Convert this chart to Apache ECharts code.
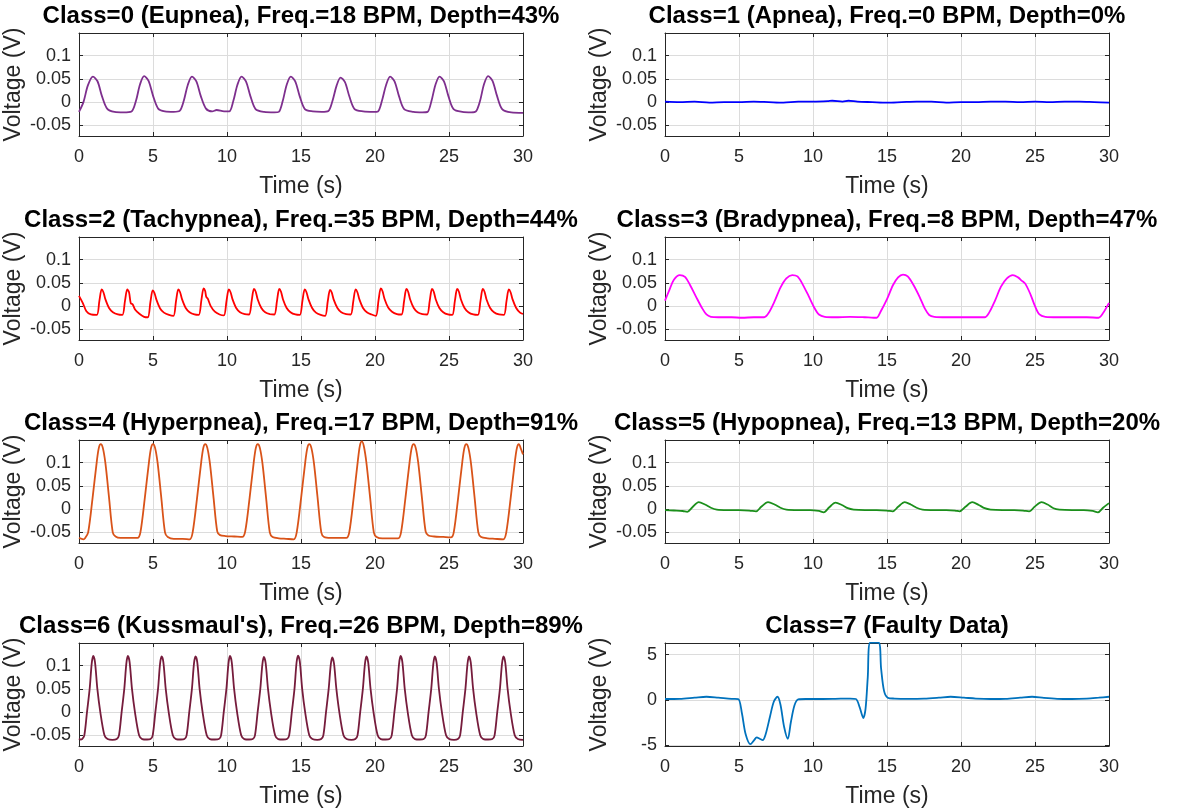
<!DOCTYPE html>
<html>
<head>
<meta charset="utf-8">
<script src="https://cdn.jsdelivr.net/npm/echarts/dist/echarts.min.js"></script>
<style>
html, body { margin: 0; padding: 0; background: #fff; }
#main { width: 1179px; height: 812px; }
</style>
</head>
<body>
<div id="main"></div>
<script>
// panel titles and line colours, class 0..7
var titles = [
    'Class=0 (Eupnea), Freq.=18 BPM, Depth=43%',
    'Class=1 (Apnea), Freq.=0 BPM, Depth=0%',
    'Class=2 (Tachypnea), Freq.=35 BPM, Depth=44%',
    'Class=3 (Bradypnea), Freq.=8 BPM, Depth=47%',
    'Class=4 (Hyperpnea), Freq.=17 BPM, Depth=91%',
    'Class=5 (Hypopnea), Freq.=13 BPM, Depth=20%',
    "Class=6 (Kussmaul's), Freq.=26 BPM, Depth=89%",
    'Class=7 (Faulty Data)'
];
var colors = ['#7e2f8e', '#0000ff', '#ff0000', '#ff00ff', '#d95319', '#1b8f1b', '#761c3c', '#0072bd'];

var yTicksSmall = [-0.05, 0, 0.05, 0.1];
var yTicksFault = [-5, 0, 5];

// [time (s), voltage (V)]
var eupnea = [
    [0,-0.021],[0.3,0.0],[0.6,0.036],[0.94,0.055],[1.25,0.045],[1.55,0.013],[1.9,-0.014],[2.4,-0.021],[3.0,-0.022],[3.55,-0.02],
    [3.85,0.003],[4.12,0.038],[4.4,0.056],[4.7,0.046],[5.0,0.014],[5.35,-0.014],[5.8,-0.02],[6.4,-0.021],[6.8,-0.019],
    [7.08,0.003],[7.35,0.037],[7.63,0.055],[7.93,0.045],[8.23,0.013],[8.58,-0.014],[9.0,-0.02],[9.3,-0.017],[9.8,-0.02],[10.15,-0.02],
    [10.43,0.003],[10.7,0.037],[10.98,0.055],[11.28,0.045],[11.58,0.013],[11.93,-0.015],[12.5,-0.021],[13.2,-0.022],[13.5,-0.021],
    [13.77,0.003],[14.03,0.037],[14.31,0.055],[14.61,0.045],[14.91,0.013],[15.26,-0.015],[15.8,-0.02],[16.4,-0.021],[16.85,-0.019],
    [17.12,0.002],[17.4,0.035],[17.67,0.053],[17.97,0.043],[18.27,0.012],[18.62,-0.015],[19.2,-0.02],[19.9,-0.021],[20.2,-0.02],
    [20.47,0.003],[20.75,0.037],[21.02,0.055],[21.32,0.045],[21.62,0.013],[21.97,-0.015],[22.6,-0.021],[23.2,-0.022],[23.55,-0.021],
    [23.82,0.003],[24.08,0.037],[24.36,0.055],[24.66,0.045],[24.96,0.013],[25.31,-0.015],[25.9,-0.021],[26.5,-0.022],[26.82,-0.02],
    [27.1,0.003],[27.36,0.038],[27.64,0.056],[27.94,0.046],[28.24,0.014],[28.59,-0.015],[29.2,-0.022],[30,-0.023]
];
var apnea = [
    [0,0.001],[1,0.0],[2,0.001],[3,-0.001],[4,0.0],[5,0.0],[6,0.001],[7,0.0],[8,-0.001],[9,0.001],[10,0.001],
    [11,0.002],[11.3,0.003],[12,0.001],[12.4,0.003],[13,0.001],[14,0.0],[15,-0.001],[16,0.0],[17,0.001],[18,0.001],
    [19,-0.001],[20,0.0],[21,0.0],[22,0.001],[23,0.001],[24,0.0],[25,0.001],[26,0.0],[27,0.001],[28,0.001],[29,0.0],[30,-0.001]
];
var tachypnea = [
    [0,0.022],[0.25,0.007],[0.5,-0.011],[0.8,-0.018],[1.2,-0.019],
    [1.38,0.012],[1.53,0.036],[1.65,0.03],[1.78,0.015],[2.03,-0.004],[2.29,-0.013],[2.63,-0.018],[2.93,-0.019],
    [3.11,0.012],[3.26,0.036],[3.38,0.03],[3.5,0.006],[3.62,0.004],[3.8,-0.008],[4.1,-0.017],[4.4,-0.023],[4.65,-0.024],
    [4.83,0.01],[4.98,0.034],[5.1,0.028],[5.23,0.014],[5.48,-0.005],[5.74,-0.014],[6.08,-0.019],[6.38,-0.021],
    [6.56,0.012],[6.71,0.036],[6.83,0.03],[6.96,0.015],[7.21,-0.004],[7.47,-0.013],[7.8,-0.018],[8.09,-0.019],
    [8.27,0.013],[8.42,0.038],[8.52,0.033],[8.6,0.02],[8.7,0.016],[8.9,0.0],[9.18,-0.012],[9.5,-0.018],[9.79,-0.02],
    [9.97,0.012],[10.12,0.036],[10.24,0.03],[10.37,0.015],[10.62,-0.004],[10.88,-0.013],[11.2,-0.017],[11.49,-0.018],
    [11.67,0.012],[11.82,0.037],[11.94,0.031],[12.07,0.015],[12.32,-0.004],[12.58,-0.013],[12.9,-0.017],[13.2,-0.018],
    [13.38,0.012],[13.53,0.037],[13.65,0.031],[13.78,0.015],[14.03,-0.004],[14.29,-0.013],[14.62,-0.018],[14.92,-0.019],
    [15.1,0.012],[15.25,0.036],[15.37,0.03],[15.5,0.015],[15.75,-0.004],[16.01,-0.014],[16.33,-0.019],[16.63,-0.021],
    [16.81,0.011],[16.96,0.035],[17.08,0.029],[17.21,0.014],[17.46,-0.004],[17.72,-0.013],[18.05,-0.017],[18.36,-0.018],
    [18.54,0.012],[18.69,0.036],[18.81,0.03],[18.94,0.015],[19.19,-0.004],[19.45,-0.013],[19.77,-0.018],[20.06,-0.021],
    [20.24,0.013],[20.39,0.038],[20.51,0.032],[20.64,0.016],[20.89,-0.003],[21.15,-0.012],[21.48,-0.017],[21.79,-0.018],
    [21.97,0.012],[22.12,0.037],[22.24,0.031],[22.37,0.015],[22.62,-0.004],[22.88,-0.013],[23.2,-0.017],[23.52,-0.018],
    [23.7,0.012],[23.85,0.037],[23.97,0.031],[24.1,0.015],[24.35,-0.004],[24.61,-0.013],[24.93,-0.018],[25.22,-0.019],
    [25.4,0.012],[25.55,0.037],[25.67,0.031],[25.8,0.015],[26.05,-0.004],[26.31,-0.013],[26.64,-0.018],[26.95,-0.019],
    [27.13,0.012],[27.28,0.037],[27.4,0.031],[27.53,0.015],[27.78,-0.004],[28.04,-0.013],[28.38,-0.018],[28.71,-0.019],
    [28.89,0.012],[29.04,0.036],[29.16,0.03],[29.29,0.015],[29.54,-0.004],[29.8,-0.014],[30,-0.017]
];
var bradypnea = [
    [0,0.012],[0.3,0.035],[0.6,0.057],[1.0,0.067],[1.35,0.063],[1.7,0.045],[2.1,0.02],[2.5,-0.004],[2.8,-0.018],[3.1,-0.023],
    [3.6,-0.024],[4.5,-0.024],[5.2,-0.025],[6.0,-0.024],[6.7,-0.024],
    [7.0,-0.015],[7.4,0.01],[7.8,0.04],[8.2,0.06],[8.6,0.067],[8.95,0.064],[9.3,0.047],[9.7,0.022],[10.1,-0.004],[10.4,-0.018],
    [10.8,-0.023],[11.5,-0.024],[12.5,-0.023],[13.5,-0.024],[14.1,-0.025],[14.3,-0.025],
    [14.6,-0.01],[15.0,0.015],[15.4,0.045],[15.75,0.062],[16.08,0.068],[16.4,0.064],[16.8,0.045],[17.2,0.02],[17.55,-0.005],[17.85,-0.019],
    [18.2,-0.023],[19,-0.024],[20,-0.024],[21,-0.024],[21.6,-0.024],
    [21.9,-0.014],[22.3,0.012],[22.7,0.042],[23.1,0.06],[23.5,0.067],[23.85,0.062],[24.1,0.055],[24.35,0.048],[24.7,0.025],[25.0,0.0],[25.3,-0.018],
    [25.7,-0.023],[26.5,-0.024],[27.5,-0.024],[28.5,-0.024],[29.3,-0.025],[29.6,-0.015],[30,0.007]
];
var hyperpnea = [
    [0,-0.062],[0.3,-0.065],[0.42,-0.062],
    [0.62,-0.05],[0.92,0.025],[1.2,0.102],[1.34,0.132],[1.47,0.14],[1.61,0.132],[1.78,0.1],[2.03,0.025],[2.28,-0.05],[2.47,-0.059],[2.8,-0.062],[3.5,-0.062],[3.95,-0.062],
    [4.15,-0.05],[4.45,0.025],[4.73,0.102],[4.87,0.132],[5.0,0.14],[5.14,0.132],[5.31,0.1],[5.56,0.025],[5.81,-0.05],[6.0,-0.06],[6.4,-0.064],[7.0,-0.064],[7.48,-0.065],
    [7.68,-0.05],[7.98,0.025],[8.26,0.102],[8.4,0.132],[8.53,0.14],[8.67,0.132],[8.84,0.1],[9.09,0.025],[9.34,-0.048],[9.53,-0.056],[9.9,-0.058],[10.5,-0.059],[11.03,-0.06],
    [11.23,-0.048],[11.53,0.025],[11.81,0.102],[11.95,0.132],[12.08,0.14],[12.22,0.132],[12.39,0.1],[12.64,0.025],[12.89,-0.05],[13.08,-0.06],[13.5,-0.063],[14.0,-0.064],[14.51,-0.065],
    [14.71,-0.05],[15.01,0.025],[15.29,0.102],[15.43,0.132],[15.56,0.14],[15.7,0.132],[15.87,0.1],[16.12,0.025],[16.37,-0.05],[16.56,-0.06],[17,-0.062],[17.5,-0.062],[18.06,-0.062],
    [18.26,-0.05],[18.56,0.025],[18.84,0.104],[18.98,0.137],[19.11,0.146],[19.25,0.135],[19.42,0.1],[19.67,0.025],[19.92,-0.05],[20.11,-0.06],[20.5,-0.063],[21,-0.063],[21.56,-0.063],
    [21.76,-0.05],[22.06,0.025],[22.34,0.102],[22.48,0.132],[22.61,0.14],[22.75,0.132],[22.92,0.1],[23.17,0.025],[23.42,-0.048],[23.61,-0.057],[24,-0.059],[24.6,-0.06],[25.12,-0.061],
    [25.32,-0.05],[25.62,0.025],[25.9,0.102],[26.04,0.132],[26.17,0.14],[26.31,0.132],[26.48,0.1],[26.73,0.025],[26.98,-0.05],[27.17,-0.06],[27.6,-0.063],[28.1,-0.064],[28.67,-0.065],
    [28.87,-0.05],[29.17,0.025],[29.45,0.102],[29.59,0.132],[29.72,0.14],[29.86,0.13],[30,0.118]
];
var hypopnea = [
    [0,-0.002],[0.6,-0.003],[1.2,-0.004],[1.5,-0.006],
    [1.85,0.004],[2.28,0.015],[2.7,0.01],[3.1,0.003],[3.5,-0.001],[4.2,-0.002],[5,-0.002],[5.7,-0.003],[6.15,-0.005],
    [6.5,0.005],[6.96,0.015],[7.4,0.01],[7.8,0.003],[8.2,-0.001],[9,-0.002],[9.8,-0.002],[10.4,-0.004],[10.72,-0.007],
    [11.1,0.004],[11.52,0.014],[11.95,0.009],[12.35,0.002],[12.75,-0.001],[13.5,-0.002],[14.3,-0.002],[15.0,-0.003],[15.38,-0.005],
    [15.75,0.005],[16.2,0.015],[16.6,0.01],[17.0,0.003],[17.4,-0.001],[18.2,-0.002],[19.0,-0.002],[19.6,-0.003],[19.9,-0.005],
    [20.3,0.005],[20.76,0.015],[21.2,0.009],[21.6,0.002],[22.0,-0.001],[22.8,-0.002],[23.6,-0.002],[24.2,-0.003],[24.6,-0.005],
    [25.0,0.006],[25.44,0.015],[25.85,0.01],[26.25,0.002],[26.65,-0.001],[27.5,-0.002],[28.3,-0.002],[28.9,-0.004],[29.25,-0.007],
    [29.6,0.003],[30,0.013]
];
var kussmaul = [
    [0,-0.057],[0.1,-0.059],
    [0.21,-0.058],[0.36,-0.05],[0.54,0.0],[0.72,0.05],[0.86,0.105],[0.96,0.121],[1.08,0.108],[1.24,0.05],[1.44,0.0],[1.72,-0.05],[1.93,-0.058],[2.26,-0.06],
    [2.55,-0.058],[2.7,-0.05],[2.88,0.0],[3.06,0.05],[3.2,0.105],[3.3,0.121],[3.42,0.108],[3.58,0.05],[3.78,0.0],[4.06,-0.05],[4.27,-0.058],[4.6,-0.059],
    [4.83,-0.058],[4.98,-0.05],[5.16,0.0],[5.34,0.05],[5.48,0.105],[5.58,0.12],[5.7,0.108],[5.86,0.05],[6.06,0.0],[6.34,-0.05],[6.55,-0.058],[6.88,-0.059],
    [7.12,-0.058],[7.27,-0.05],[7.45,0.0],[7.63,0.05],[7.77,0.105],[7.87,0.12],[7.99,0.108],[8.15,0.05],[8.35,0.0],[8.63,-0.05],[8.84,-0.058],[9.17,-0.059],
    [9.45,-0.058],[9.6,-0.05],[9.78,0.0],[9.96,0.05],[10.1,0.105],[10.2,0.121],[10.32,0.108],[10.48,0.05],[10.68,0.0],[10.96,-0.05],[11.17,-0.058],[11.5,-0.059],
    [11.74,-0.058],[11.89,-0.05],[12.07,0.0],[12.25,0.05],[12.39,0.103],[12.49,0.119],[12.61,0.106],[12.77,0.05],[12.97,0.0],[13.25,-0.05],[13.46,-0.058],[13.79,-0.059],
    [14.05,-0.058],[14.2,-0.05],[14.38,0.0],[14.56,0.05],[14.7,0.107],[14.8,0.122],[14.92,0.109],[15.08,0.05],[15.28,0.0],[15.56,-0.05],[15.77,-0.058],[16.1,-0.06],
    [16.36,-0.058],[16.51,-0.05],[16.69,0.0],[16.87,0.05],[17.01,0.102],[17.11,0.118],[17.23,0.105],[17.39,0.05],[17.59,0.0],[17.87,-0.05],[18.08,-0.058],[18.41,-0.06],
    [18.67,-0.058],[18.82,-0.05],[19.0,0.0],[19.18,0.05],[19.32,0.104],[19.42,0.12],[19.54,0.107],[19.7,0.05],[19.9,0.0],[20.18,-0.05],[20.39,-0.058],[20.72,-0.059],
    [20.98,-0.058],[21.13,-0.05],[21.31,0.0],[21.49,0.05],[21.63,0.105],[21.73,0.121],[21.85,0.108],[22.01,0.05],[22.21,0.0],[22.49,-0.05],[22.7,-0.058],[23.03,-0.059],
    [23.29,-0.058],[23.44,-0.05],[23.62,0.0],[23.8,0.05],[23.94,0.104],[24.04,0.12],[24.16,0.107],[24.32,0.05],[24.52,0.0],[24.8,-0.05],[25.01,-0.058],[25.34,-0.06],
    [25.6,-0.058],[25.75,-0.05],[25.93,0.0],[26.11,0.05],[26.25,0.104],[26.35,0.12],[26.47,0.107],[26.63,0.05],[26.83,0.0],[27.11,-0.05],[27.32,-0.058],[27.65,-0.059],
    [27.93,-0.058],[28.08,-0.05],[28.26,0.0],[28.44,0.05],[28.58,0.104],[28.68,0.12],[28.8,0.107],[28.96,0.05],[29.16,0.0],[29.44,-0.05],[29.65,-0.058],[30,-0.06]
];
var faulty = [
    [0,0.1],[1,0.12],[2,0.25],[2.8,0.35],[3.6,0.25],[4.5,0.12],[4.95,0.1],[5.2,-1.5],[5.45,-3.8],[5.77,-4.9],[6.0,-4.5],
    [6.2,-4.15],[6.4,-4.3],[6.6,-4.45],[6.8,-3.8],[7.1,-1.8],[7.35,-0.2],[7.6,0.35],[7.8,-0.5],[8.05,-3.0],[8.3,-4.3],
    [8.5,-2.5],[8.75,-0.6],[9.0,0.05],[9.5,0.1],[10.5,0.1],[11.5,0.12],[12.5,0.15],[12.9,0.1],[13.15,-0.8],[13.4,-2.0],
    [13.55,-1.0],[13.7,2.5],[13.87,6.35],[14.43,6.35],[14.6,3.5],[14.8,1.0],[15.05,0.25],[15.5,0.15],[16.5,0.12],[17.5,0.15],
    [18.5,0.25],[19.3,0.35],[20.2,0.25],[21,0.15],[22,0.1],[23,0.12],[24,0.25],[24.8,0.35],[25.6,0.22],[26.5,0.12],
    [27.5,0.1],[28.5,0.15],[29.3,0.25],[30,0.35]
];
var signals = [eupnea, apnea, tachypnea, bradypnea, hyperpnea, hypopnea, kussmaul, faulty];

var myChart = echarts.init(document.getElementById('main'));

var font = "'Liberation Sans', Arial, Helvetica, sans-serif";
var ink = '#262626';
var colLeft = [79, 665];
var rowTop = [33, 237, 440, 643];
var boxW = 444, boxH = 103;

function buildOption() {
    var option = {
        animation: false,
        backgroundColor: '#ffffff',
        grid: [],
        xAxis: [],
        yAxis: [],
        series: [],
        graphic: []
    };
    for (var i = 0; i < 8; i++) {
        var gx = colLeft[i % 2];
        var gy = rowTop[Math.floor(i / 2)];
        var isFault = (i === 7);
        var yTicks = isFault ? yTicksFault : yTicksSmall;
        var yMin = isFault ? -5.1 : -0.073;
        var yMax = isFault ? 6.3 : 0.149;

        option.grid.push({ left: gx, top: gy, width: boxW, height: boxH });

        option.graphic.push({
            type: 'text',
            x: gx + boxW / 2,
            y: gy - 17,
            style: {
                text: titles[i],
                align: 'center', verticalAlign: 'middle',
                font: 'bold 24px ' + font,
                fill: '#000000'
            }
        });

        option.xAxis.push({
            gridIndex: i, type: 'value', position: 'bottom',
            min: 0, max: 30, interval: 5,
            name: 'Time (s)', nameLocation: 'middle', nameGap: 39,
            nameTextStyle: { fontSize: 23, color: ink, fontFamily: font },
            axisLine: { show: true, onZero: false, lineStyle: { color: ink, width: 1 } },
            axisTick: { show: true, inside: true, length: 4, lineStyle: { color: ink } },
            axisLabel: { fontSize: 18, color: ink, margin: 12, fontFamily: font },
            splitLine: { show: true, lineStyle: { color: '#dcdcdc', width: 1 } }
        });
        option.yAxis.push({
            gridIndex: i, type: 'value', position: 'left',
            min: yMin, max: yMax,
            name: 'Voltage (V)', nameLocation: 'middle', nameGap: 54,
            nameTextStyle: { fontSize: 23, color: ink, fontFamily: font },
            axisLine: { show: true, onZero: false, lineStyle: { color: ink, width: 1 } },
            axisTick: { show: true, inside: true, length: 4, lineStyle: { color: ink }, customValues: yTicks },
            axisLabel: { fontSize: 18, color: ink, margin: 8, fontFamily: font, customValues: yTicks },
            splitLine: { show: true, lineStyle: { color: '#dcdcdc', width: 1 } }
        });
        // top / right axes close the box and repeat the ticks
        option.xAxis.push({
            gridIndex: i, type: 'value', position: 'top',
            min: 0, max: 30, interval: 5,
            axisLine: { show: true, onZero: false, lineStyle: { color: ink, width: 1 } },
            axisTick: { show: true, inside: true, length: 4, lineStyle: { color: ink } },
            axisLabel: { show: false },
            splitLine: { show: false }
        });
        option.yAxis.push({
            gridIndex: i, type: 'value', position: 'right',
            min: yMin, max: yMax,
            axisLine: { show: true, onZero: false, lineStyle: { color: ink, width: 1 } },
            axisTick: { show: true, inside: true, length: 4, lineStyle: { color: ink }, customValues: yTicks },
            axisLabel: { show: false },
            splitLine: { show: false }
        });

        option.series.push({
            type: 'line',
            xAxisIndex: 2 * i,
            yAxisIndex: 2 * i,
            data: signals[i],
            showSymbol: false,
            smooth: 0.3,
            clip: true,
            lineStyle: { color: colors[i], width: 1.8 },
            z: 3
        });
    }
    return option;
}

myChart.setOption(buildOption());
</script>
</body>
</html>
